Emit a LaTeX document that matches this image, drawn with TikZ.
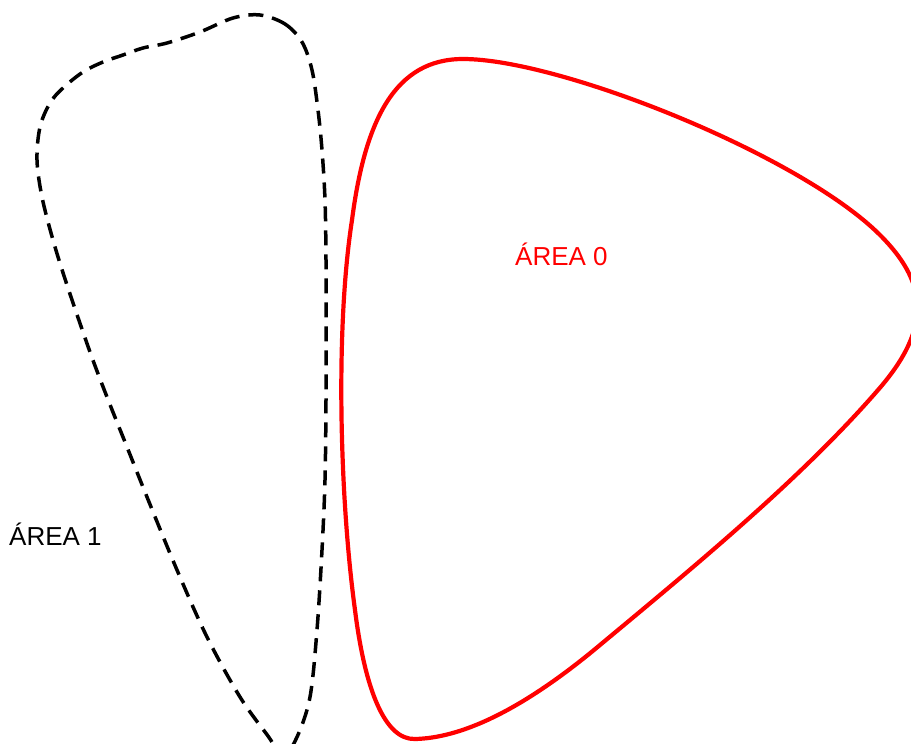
\documentclass[tikz,border=0pt]{standalone}
\usepackage{fontspec}
\setmainfont{Liberation Sans}
\begin{document}
\begin{tikzpicture}[x=1pt,y=-1pt,
  areazero/.style={draw=red,line width=4.2pt,line join=round},
  areaone/.style={draw=black,line width=3.5pt,dash pattern=on 15pt off 9pt},
  lbl/.style={inner sep=0pt,anchor=base west,font=\fontsize{26}{31}\selectfont}]
\useasboundingbox (0,0) rectangle (911,744);
\clip (0,0) rectangle (911,744);
% AREA 0 (red)
\path[areazero] (463,59) .. controls (560,59) and (800,155) .. (880,235)
  .. controls (925,280) and (935,325) .. (878,390)
  .. controls (800,480) and (690,570) .. (600,645)
  .. controls (520,712) and (460,738) .. (415,739)
  .. controls (385,740) and (365,690) .. (355,610)
  .. controls (340,500) and (335,330) .. (352,220)
  .. controls (365,120) and (395,59) .. (463,59) -- cycle;
% AREA 1 (dashed)
\path[areaone] plot[smooth cycle,tension=0.55] coordinates {
  (260,15) (285,24) (302,42) (312,70) (318,110) (322,150) (325,200)
  (326,260) (326,330) (326,400) (325,480) (322,550) (317,630) (310,697)
  (297,737) (283,756) (268,736) (240,697) (207,637) (177,570) (147,497)
  (127,447) (107,397) (90,352) (67,285) (53,240) (42,197) (37,160)
  (40,127) (50,103) (63,88) (83,72) (103,62) (123,55) (143,48) (167,43)
  (200,32) (233,18)};
\node[lbl,text=red] (a0) at (515,265) {ÁREA 0};
\node[lbl,text=black] (a1) at (9,545) {ÁREA 1};
\end{tikzpicture}
\end{document}
